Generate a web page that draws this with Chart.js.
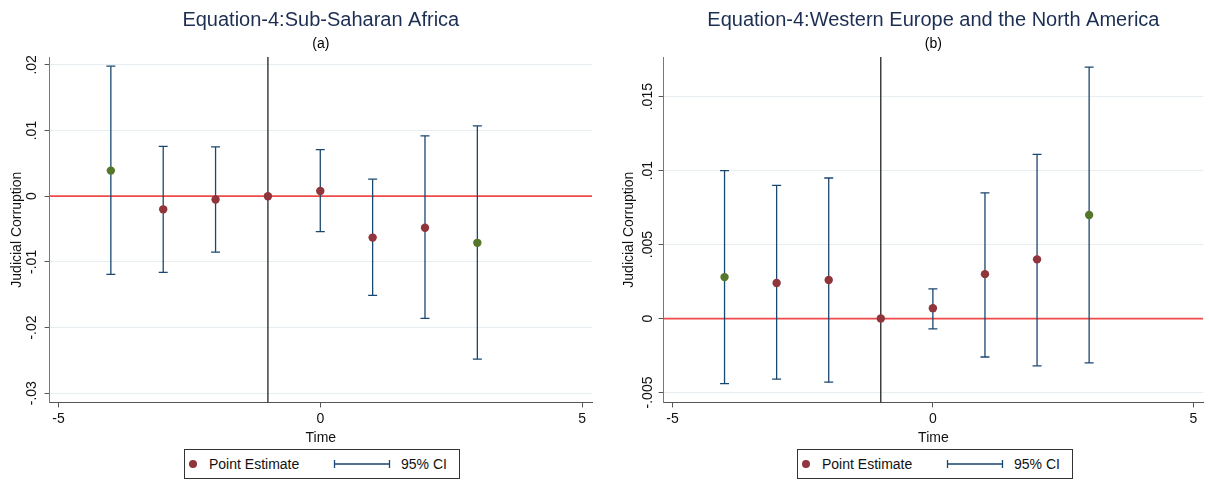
<!DOCTYPE html>
<html>
<head>
<meta charset="utf-8">
<script src="https://cdn.jsdelivr.net/npm/chart.js@4/dist/chart.umd.min.js"></script>
<style>
  body { margin: 0; background: #fff; font-family: "Liberation Sans", Arial, sans-serif; }
  #wrap { position: relative; width: 1209px; height: 481px; overflow: hidden; }
  .panel { position: absolute; top: 0; }
  .legend { position: absolute; top: 449px; height: 30px; width: 276px; border: 1px solid #333;
            box-sizing: border-box; font-size: 14px; color: #111; background: #fff; }
  .legend span, .legend svg { position: absolute; }
  .legend .lab { top: 0; line-height: 28px; }
  .legend .dot { top: 10px; left: 4px; width: 8px; height: 8px; border-radius: 50%; background: #90353b; }
  .legend svg { top: 9px; left: 148px; }
</style>
</head>
<body>
<div id="wrap">
  <canvas id="chartA" class="panel" style="left:0" width="604" height="481"></canvas>
  <canvas id="chartB" class="panel" style="left:605px" width="604" height="481"></canvas>

  <div class="legend" style="left:184px">
    <span class="dot"></span><span class="lab" style="left:24px">Point Estimate</span>
    <svg width="60" height="10"><path d="M1 5H57M1.5 1V9M56.5 1V9" stroke="#1a476f" stroke-width="1.3" fill="none"/></svg>
    <span class="lab" style="left:216px">95% CI</span>
  </div>
  <div class="legend" style="left:797px">
    <span class="dot"></span><span class="lab" style="left:24px">Point Estimate</span>
    <svg width="60" height="10"><path d="M1 5H57M1.5 1V9M56.5 1V9" stroke="#1a476f" stroke-width="1.3" fill="none"/></svg>
    <span class="lab" style="left:216px">95% CI</span>
  </div>
</div>

<script>
// event time, same for both panels
const timeVals = [-4, -3, -2, -1, 0, 1, 2, 3];

// (a) Sub-Saharan Africa
const estA    = [0.0039, -0.0020, -0.0005, 0, 0.0008, -0.0063, -0.0048, -0.0071];
const ciLowA  = [-0.0119, -0.0116, -0.0085, null, -0.0054, -0.0151, -0.0186, -0.0248];
const ciHighA = [0.0198, 0.0076, 0.0075, null, 0.0071, 0.0026, 0.0092, 0.0107];

// (b) Western Europe and the North America
const estB    = [0.0028, 0.0024, 0.0026, 0, 0.0007, 0.0030, 0.0040, 0.0070];
const ciLowB  = [-0.0044, -0.0041, -0.0043, null, -0.0007, -0.0026, -0.0032, -0.0030];
const ciHighB = [0.0100, 0.0090, 0.0095, null, 0.0020, 0.0085, 0.0111, 0.0170];

// estimates drawn in green
const greenTimes = [-4, 3];

const xTicks = [-5, 0, 5];
const yTicksA  = [-0.03, -0.02, -0.01, 0, 0.01, 0.02];
const yLabelsA = ['-.03', '-.02', '-.01', '0', '.01', '.02'];
const yTicksB  = [-0.005, 0, 0.005, 0.01, 0.015];
const yLabelsB = ['-.005', '0', '.005', '.01', '.015'];

const RED = '#90353b';
const GREEN = '#55772a';
const NAVY = '#1a476f';
const FONT = '"Liberation Sans", Arial, sans-serif';

// titles centred over the plot region
const panelTitles = {
    id: 'panelTitles',
    afterDraw(chart, args, opts) {
        const { ctx, chartArea } = chart;
        const cx = (chartArea.left + chartArea.right) / 2;
        ctx.save();
        ctx.textAlign = 'center';
        ctx.textBaseline = 'middle';
        ctx.fillStyle = '#1c2e52';
        ctx.font = '20px ' + FONT;
        ctx.fillText(opts.title, cx, 20);
        ctx.fillStyle = '#000';
        ctx.font = '14px ' + FONT;
        ctx.fillText(opts.sub, cx, 44);
        ctx.restore();
    }
};

function makePanel(id, cfg) {
    const points = timeVals.map((t, i) => ({ x: t, y: cfg.est[i] }));
    const ci = [];
    timeVals.forEach((t, i) => {
        if (cfg.lo[i] === null) return;
        ci.push({ x: t, y: cfg.lo[i] }, { x: t, y: cfg.hi[i] }, { x: t, y: null });
    });

    return new Chart(document.getElementById(id), {
        type: 'scatter',
        data: {
            datasets: [
                {
                    data: points,
                    pointBackgroundColor: timeVals.map(t => greenTimes.includes(t) ? GREEN : RED),
                    pointBorderWidth: 0,
                    pointRadius: 4.2,
                    order: 0
                },
                {
                    data: ci,
                    showLine: true,
                    spanGaps: false,
                    borderColor: NAVY,
                    borderWidth: 1.3,
                    pointStyle: 'line',
                    pointRadius: 4.5,
                    pointBorderColor: NAVY,
                    pointBorderWidth: 1.3,
                    order: 1
                },
                {
                    data: [{ x: -1, y: cfg.yMin }, { x: -1, y: cfg.yMax }],
                    showLine: true,
                    borderColor: '#111',
                    borderWidth: 1.2,
                    pointRadius: 0,
                    order: 2
                },
                {
                    data: [{ x: cfg.xMin, y: 0 }, { x: cfg.xMax, y: 0 }],
                    showLine: true,
                    borderColor: '#ee4a4a',
                    borderWidth: 1.8,
                    pointRadius: 0,
                    order: 3
                }
            ]
        },
        options: {
            responsive: false,
            animation: false,
            devicePixelRatio: 1,
            events: [],
            layout: { padding: { top: 57, left: cfg.padLeft, right: cfg.padRight, bottom: 34 } },
            scales: {
                x: {
                    type: 'linear',
                    min: cfg.xMin,
                    max: cfg.xMax,
                    afterBuildTicks: s => { s.ticks = xTicks.map(v => ({ value: v })); },
                    ticks: { color: '#111', font: { family: FONT, size: 14 }, padding: 3 },
                    grid: { drawOnChartArea: false, tickLength: 5, tickColor: '#555' },
                    border: { color: '#555', width: 1 },
                    title: { display: true, text: 'Time', color: '#111', font: { family: FONT, size: 14 }, padding: { top: 0, bottom: 0 } }
                },
                y: {
                    min: cfg.yMin,
                    max: cfg.yMax,
                    afterBuildTicks: s => { s.ticks = cfg.yTicks.map(v => ({ value: v })); },
                    ticks: {
                        color: '#111',
                        font: { family: FONT, size: 14 },
                        padding: cfg.tickPad,
                        minRotation: 90,
                        maxRotation: 90,
                        crossAlign: 'center',
                        callback: v => cfg.yLabels[cfg.yTicks.findIndex(t => Math.abs(t - v) < 1e-9)]
                    },
                    grid: { color: '#e6eef1', lineWidth: 1, tickLength: 5, tickColor: '#555' },
                    border: { color: '#777', width: 1 },
                    title: {
                        display: true, text: 'Judicial Corruption', color: '#111',
                        font: { family: FONT, size: 14 },
                        padding: { top: 3, bottom: cfg.titlePadBottom }
                    }
                }
            },
            plugins: {
                legend: { display: false },
                tooltip: { enabled: false },
                panelTitles: { title: cfg.title, sub: cfg.sub }
            }
        },
        plugins: [panelTitles]
    });
}

makePanel('chartA', {
    est: estA, lo: ciLowA, hi: ciHighA,
    yTicks: yTicksA, yLabels: yLabelsA,
    xMin: -5.17, xMax: 5.19, yMin: -0.0314, yMax: 0.0212,
    padLeft: 6, padRight: 12, tickPad: 0, titlePadBottom: 2,
    title: 'Equation-4:Sub-Saharan Africa', sub: '(a)'
});

makePanel('chartB', {
    est: estB, lo: ciLowB, hi: ciHighB,
    yTicks: yTicksB, yLabels: yLabelsB,
    xMin: -5.17, xMax: 5.19, yMin: -0.00567, yMax: 0.01768,
    padLeft: 13, padRight: 2, tickPad: -5, titlePadBottom: 14,
    title: 'Equation-4:Western Europe and the North America', sub: '(b)'
});
</script>
</body>
</html>
